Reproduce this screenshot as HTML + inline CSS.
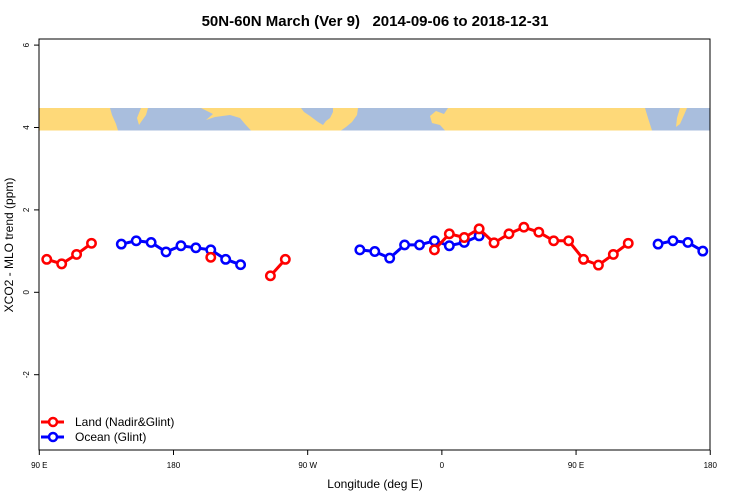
<!DOCTYPE html>
<html><head><meta charset="utf-8"><style>
body{margin:0;background:#fff;}
svg{display:block;font-family:"Liberation Sans",sans-serif;}
</style></head><body>
<svg width="750" height="500" viewBox="0 0 750 500">
<text x="375" y="26" text-anchor="middle" font-size="15" font-weight="bold" style="white-space:pre">50N-60N March (Ver 9)   2014-09-06 to 2018-12-31</text>
<g>
<rect x="39" y="108" width="671" height="22.5" fill="#A9BEDD"/>
<polygon fill="#FED979" points="39,108 110,108 112,115 116,124 118,130.5 39,130.5"/>
<polygon fill="#FED979" points="141,108 148,108 146,115 141,122 139,125 137,118"/>
<polygon fill="#FED979" points="201,108 301,108 304,112 310,116 318,122 323,125 326,121 330,118 333,112 333,108 358,108 357,115 352,122 346,127 341,130.5 251,130.5 245,124 240,118 230,115 215,117 206,120 213,114"/>
<polygon fill="#FED979" points="448,108 645,108 648,118 652,130.5 445,130.5 440,125 432,123 430,116 436,111 444,114"/>
<polygon fill="#FED979" points="680,108 687,108 684,115 680,124 676,127 677,118"/>
</g>
<rect x="39" y="39" width="671" height="411" fill="none" stroke="#000"/>
<g id="yaxis" font-size="8"></g>
<g id="xaxis" font-size="8"></g>
<text x="0" y="0" transform="translate(13,245) rotate(-90)" text-anchor="middle" font-size="12">XCO2 - MLO trend (ppm)</text>
<text x="375" y="488" text-anchor="middle" font-size="12">Longitude (deg E)</text>
<g id="series"></g>
<g>
<g><line x1="41" y1="422" x2="64" y2="422" stroke="red" stroke-width="3"/><circle cx="53" cy="422" r="4" fill="#fff" stroke="red" stroke-width="2.5"/><text x="75" y="426" font-size="12">Land (Nadir&amp;Glint)</text></g>
<g><line x1="41" y1="437" x2="64" y2="437" stroke="blue" stroke-width="3"/><circle cx="53" cy="437" r="4" fill="#fff" stroke="blue" stroke-width="2.5"/><text x="75" y="441" font-size="12">Ocean (Glint)</text></g>
</g>
</svg>
<script>
const yTicks=[-2,0,2,4,6];
const xTickLons=[90,180,270,360,450,540];
const xTickLabels=["90 E","180","90 W","0","90 E","180"];
const landLon=[95,105,115,125,205,245,255,355,365,375,385,395,405,415,425,435,445,455,465,475,485];
const landVal=[0.80,0.69,0.92,1.19,0.85,0.40,0.80,1.03,1.42,1.33,1.54,1.20,1.42,1.58,1.46,1.25,1.25,0.80,0.66,0.92,1.19];
const oceanLon=[145,155,165,175,185,195,205,215,225,305,315,325,335,345,355,365,375,385,505,515,525,535];
const oceanVal=[1.17,1.25,1.21,0.98,1.13,1.08,1.03,0.80,0.67,1.03,0.99,0.83,1.15,1.15,1.25,1.13,1.21,1.37,1.17,1.25,1.21,1.00];
const NS='http://www.w3.org/2000/svg';
function X(lon){return 39.3+(lon-90)*1.491;}
function Y(v){return 292.3-v*41.2;}
function mk(t,a,p){const e=document.createElementNS(NS,t);for(const k in a)e.setAttribute(k,a[k]);p.appendChild(e);return e;}
const ya=document.getElementById('yaxis');
yTicks.forEach(v=>{
  const l=mk('line',{x1:34,x2:39,y1:Y(v),y2:Y(v),stroke:'#000'},ya);
  
  
  const t=mk('text',{x:0,y:0,transform:`translate(29,${Y(v)}) rotate(-90)`,'text-anchor':'middle'},ya);
  t.textContent=v;
  
  
});
const xa=document.getElementById('xaxis');
xTickLons.forEach((lon,i)=>{
  const l=mk('line',{x1:X(lon),x2:X(lon),y1:450,y2:455,stroke:'#000'},xa);
  
  
  const t=mk('text',{x:X(lon),y:468,'text-anchor':'middle'},xa);
  t.textContent=xTickLabels[i];
  
  
});
const sg=document.getElementById('series');
function draw(lons,vals,color,name){
  const g=mk('g',{},sg);
  
  
  let seg=[];
  const flush=()=>{if(seg.length>1){const p=mk('polyline',{points:seg.join(' '),fill:'none',stroke:color,'stroke-width':3},g);}seg=[];};
  for(let i=0;i<lons.length;i++){
    if(i>0&&lons[i]-lons[i-1]>10)flush();
    seg.push(X(lons[i])+','+Y(vals[i]));
  }
  flush();
  for(let i=0;i<lons.length;i++){
    const c=mk('circle',{cx:X(lons[i]),cy:Y(vals[i]),r:4.2,fill:'#fff',stroke:color,'stroke-width':2.5},g);
    
    
  }
}
draw(oceanLon,oceanVal,'blue','ocean');
draw(landLon,landVal,'red','land');
</script>
</body></html>
